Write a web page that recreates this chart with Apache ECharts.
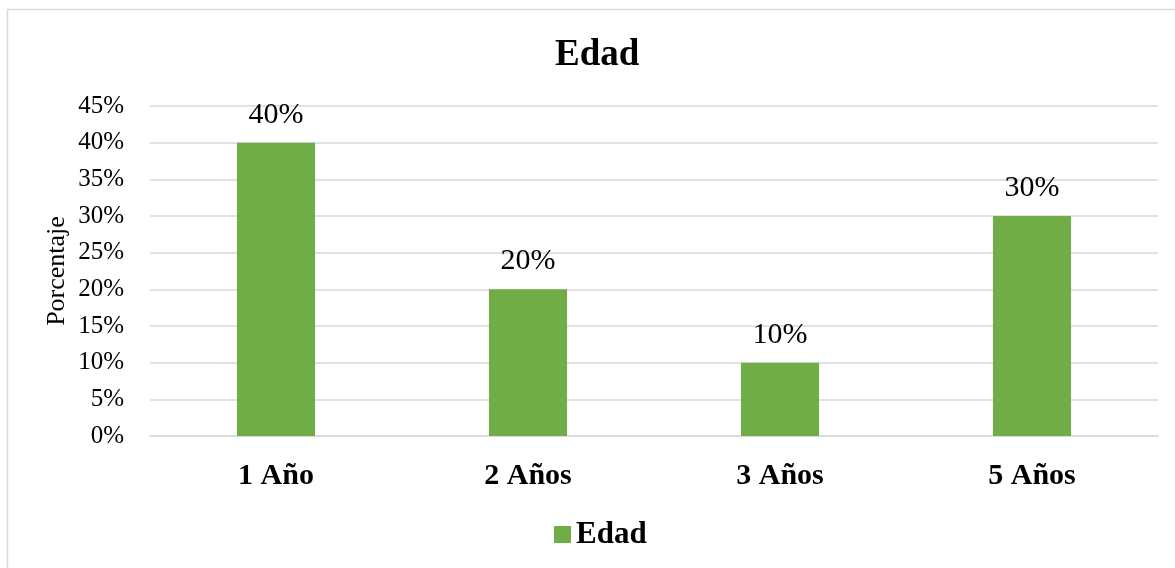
<!DOCTYPE html>
<html>
<head>
<meta charset="utf-8">
<script src="https://cdn.jsdelivr.net/npm/echarts@6/dist/echarts.min.js"></script>
<style>
  html, body { margin: 0; padding: 0; background: #fff; }
  #chart { width: 1175px; height: 568px; }
</style>
</head>
<body>
<div id="chart"></div>
<script>
const categories = ['1 Año', '2 Años', '3 Años', '5 Años'];
const edadValues = [40, 20, 10, 30];
const seriesName = 'Edad';

const font = '"Liberation Serif", "Times New Roman", serif';
const green = '#70AD47';

const chart = echarts.init(document.getElementById('chart'));

chart.setOption({
    animation: false,
    textStyle: { fontFamily: font },
    graphic: [{
        type: 'rect',
        shape: { x: 7.5, y: 9.5, width: 1200, height: 600 },
        style: { fill: 'none', stroke: '#d9d9d9', lineWidth: 1.5 },
        silent: true
    }],
    title: {
        text: 'Edad',
        left: 550,
        top: 32,
        textStyle: { fontFamily: font, fontSize: 37, fontWeight: 'bold', color: '#000' }
    },
    legend: {
        top: 514,
        left: 549,
        itemWidth: 17,
        itemHeight: 17,
        icon: 'rect',
        textStyle: { fontFamily: font, fontSize: 31, fontWeight: 'bold', color: '#000' },
        data: [seriesName]
    },
    grid: {
        left: 150,
        right: 17,
        top: 106,
        bottom: 132,
        containLabel: false
    },
    xAxis: {
        type: 'category',
        data: categories,
        axisTick: { show: false },
        axisLine: { lineStyle: { color: '#d9d9d9', width: 1.5 } },
        axisLabel: {
            margin: 25,
            fontFamily: font,
            fontSize: 30,
            fontWeight: 'bold',
            color: '#000'
        }
    },
    yAxis: {
        type: 'value',
        min: 0,
        max: 45,
        interval: 5,
        name: 'Porcentaje',
        nameLocation: 'middle',
        nameGap: 80,
        nameMoveOverlap: false,
        nameTextStyle: { fontFamily: font, fontSize: 26, color: '#000' },
        axisLine: { show: false },
        axisTick: { show: false },
        splitLine: { lineStyle: { color: '#d9d9d9', width: 1.5 } },
        axisLabel: {
            margin: 26,
            fontFamily: font,
            fontSize: 25,
            color: '#000',
            formatter: '{value}%'
        }
    },
    series: [{
        name: seriesName,
        type: 'bar',
        data: edadValues,
        barWidth: '31%',
        itemStyle: { color: green },
        label: {
            show: true,
            position: 'top',
            distance: 13,
            formatter: '{c}%',
            fontFamily: font,
            fontSize: 30,
            color: '#000'
        }
    }]
});
</script>
</body>
</html>
